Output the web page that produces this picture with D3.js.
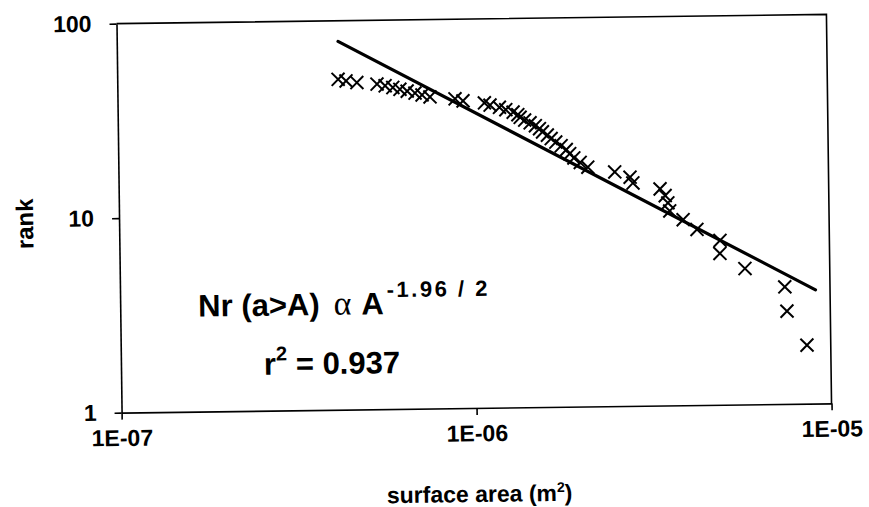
<!DOCTYPE html>
<html>
<head>
<meta charset="utf-8">
<script src="https://cdn.jsdelivr.net/npm/d3@7"></script>
<style>
  body { margin: 0; background: #fff; }
  svg { display: block; }
  text { font-family: Arial, "Liberation Sans", sans-serif; font-weight: bold; fill: #000; }
</style>
</head>
<body>
<svg id="chart" width="869" height="507"></svg>
<script>
// Surface area of each patch (m^2) and its rank (number of patches at least this large)
const areas = [
  4.19e-7, 4.41e-7, 4.73e-7, 5.39e-7, 5.68e-7, 5.97e-7, 6.25e-7, 6.55e-7, 6.89e-7, 7.21e-7,
  7.59e-7, 8.93e-7, 9.40e-7, 1.08e-6, 1.12e-6, 1.19e-6, 1.24e-6, 1.30e-6, 1.34e-6, 1.36e-6,
  1.40e-6, 1.45e-6, 1.50e-6, 1.54e-6, 1.57e-6, 1.62e-6, 1.66e-6, 1.71e-6, 1.77e-6, 1.83e-6,
  1.87e-6, 1.92e-6, 2.00e-6, 2.10e-6, 2.50e-6, 2.76e-6, 2.81e-6, 3.35e-6, 3.46e-6, 3.52e-6,
  3.56e-6, 3.88e-6, 4.24e-6, 4.92e-6, 4.91e-6, 5.77e-6, 7.46e-6, 7.55e-6, 8.57e-6
];
const ranks = [
  50, 49, 48, 47, 46, 45, 44, 43, 42, 41,
  40, 39, 38, 37, 36, 35, 34, 33, 32, 31,
  30, 29, 28, 27, 26, 25, 24, 23, 22, 21,
  20, 19, 18, 17, 16, 15, 14, 13, 12, 11,
  10, 9, 8, 7, 6, 5, 4, 3, 2
];

// Power-law fit  Nr(a>A) ~ C * A^(-1.96/2)
const fitExponent = -1.96 / 2;
const fitCoefficient = 4.41e-5;
const fitAreaRange = [4.2e-7, 9.1e-6];

// Axis ticks
const xTickValues = [1e-7, 1e-6, 1e-5];
const xTickLabels = ["1E-07", "1E-06", "1E-05"];
const yTickValues = [1, 10, 100];
const yTickLabels = ["1", "10", "100"];

const plot = { left: 119, right: 829, top: 19, bottom: 408 };

const svg = d3.select("#chart");
// the whole figure sits with a slight counter-clockwise tilt
const root = svg.append("g").attr("transform", "rotate(-0.75, 474, 213)");

const x = d3.scaleLog().domain([1e-7, 1e-5]).range([plot.left, plot.right]);
const y = d3.scaleLog().domain([1, 100]).range([plot.bottom, plot.top]);

// frame (top and right edges)
root.append("path")
  .attr("d", `M${plot.left},${plot.top}H${plot.right}V${plot.bottom}`)
  .attr("fill", "none").attr("stroke", "#000").attr("stroke-width", 1.6);

const xAxis = d3.axisBottom(x)
  .tickValues(xTickValues)
  .tickFormat((d, i) => xTickLabels[i])
  .tickSize(7).tickSizeOuter(0).tickPadding(10);
const yAxis = d3.axisLeft(y)
  .tickValues(yTickValues)
  .tickFormat((d, i) => yTickLabels[i])
  .tickSize(7).tickSizeOuter(0).tickPadding(18);

const gx = root.append("g").attr("transform", `translate(0,${plot.bottom})`).call(xAxis);
const gy = root.append("g").attr("transform", `translate(${plot.left},0)`).call(yAxis);
[gx, gy].forEach(g => {
  g.select(".domain").attr("stroke", "#000").attr("stroke-width", 1.6);
  g.selectAll(".tick line").attr("stroke", "#000").attr("stroke-width", 1.6);
  g.selectAll(".tick text")
    .attr("fill", "#000")
    .style("font-family", "Arial, 'Liberation Sans', sans-serif")
    .style("font-weight", "bold")
    .style("font-size", "23px");
});

// fitted power law
const fitPts = fitAreaRange.map(a => [a, fitCoefficient * Math.pow(a, fitExponent)]);
root.append("path")
  .attr("d", d3.line().x(d => x(d[0])).y(d => y(d[1]))(fitPts))
  .attr("fill", "none").attr("stroke", "#000").attr("stroke-width", 3.2)
  .attr("stroke-linecap", "round");

// data markers
const s = 6.5;
root.append("g").selectAll("path")
  .data(areas.map((a, i) => [a, ranks[i]]))
  .join("path")
  .attr("transform", d => `translate(${x(d[0])},${y(d[1])})`)
  .attr("d", `M${-s},${-s}L${s},${s}M${-s},${s}L${s},${-s}`)
  .attr("stroke", "#000").attr("stroke-width", 2).attr("fill", "none");

// axis titles
const xt = root.append("text")
  .attr("x", 476).attr("y", 502)
  .attr("text-anchor", "middle")
  .style("font-size", "23px");
xt.append("tspan").text("surface area (m");
xt.append("tspan").attr("dy", -9).style("font-size", "14px").text("2");
xt.append("tspan").attr("dy", 9).text(")");

root.append("text")
  .attr("transform", "translate(33,218) rotate(-90)")
  .attr("text-anchor", "middle")
  .style("font-size", "24px")
  .text("rank");

// fit annotation
const eq = root.append("text")
  .attr("x", 197).attr("y", 313)
  .style("font-size", "31px");
eq.append("tspan").text("Nr (a>A)");
eq.append("tspan").attr("dx", 14)
  .style("font-family", "'Liberation Serif', 'Times New Roman', serif")
  .style("font-weight", "normal")
  .style("font-size", "34px")
  .text("\u03B1");
eq.append("tspan").attr("dx", 10).text("A");
eq.append("tspan").attr("dx", 3).attr("dy", -17)
  .style("font-size", "22px").style("letter-spacing", "2.5px")
  .text("-1.96 / 2");

const r2 = root.append("text")
  .attr("x", 262).attr("y", 372)
  .style("font-size", "31px");
r2.append("tspan").text("r");
r2.append("tspan").attr("dy", -14).style("font-size", "20px").text("2");
r2.append("tspan").attr("dy", 14).text(" = 0.937");
</script>
</body>
</html>
